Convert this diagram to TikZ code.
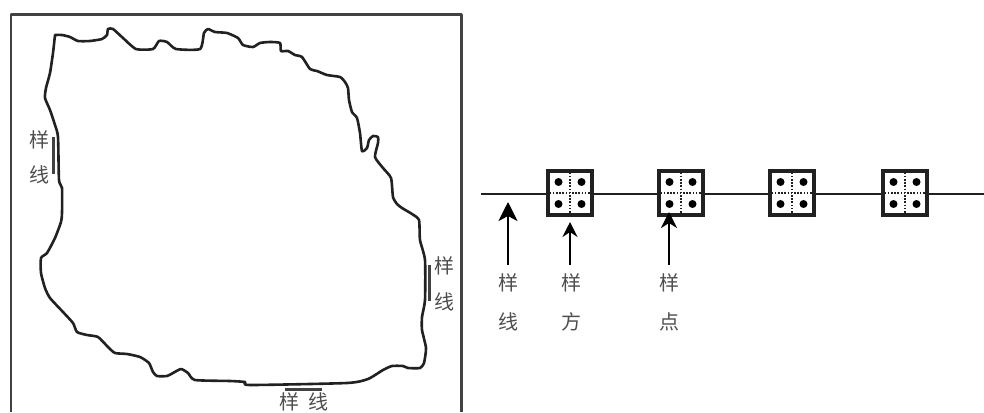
\documentclass[tikz,border=0pt]{standalone}
\usepackage{fontspec}
\newfontfamily\cjk{Noto Sans CJK SC}[Scale=1]
\usetikzlibrary{arrows.meta}
\definecolor{ink}{gray}{0.13}
\tikzset{
  frameline/.style={draw=ink!85!white,line width=2.3pt,line join=round},
  coast/.style={draw=ink,line width=2.6pt,line join=round,line cap=round},
  seg/.style={draw=ink!85!white,line width=3pt},
  lab/.style={font=\cjk\fontsize{20}{20}\selectfont,text=ink!80!white,inner sep=0pt},
  quad/.style={draw=ink,line width=3.1pt,fill=white,minimum size=44pt,inner sep=0pt},
  transect/.style={draw=ink,line width=2.2pt},
  cross/.style={draw=ink,line width=1.2pt,dash pattern=on 1.5pt off 1.7pt},
  dotpt/.style={fill=black,draw=none,circle,minimum size=8pt,inner sep=0pt},
  up/.style={draw=black,line width=2.8pt,-{Stealth[length=#1,width=#1,inset=5pt]}}
}
\begin{document}
\begin{tikzpicture}[x=1pt,y=-1pt]
\useasboundingbox (0,0) rectangle (984,412);
\fill[white] (0,0) rectangle (984,412);
% frame
\draw[frameline] (11,412) -- (11,14.5) -- (461.5,14.5) -- (461.5,412);
% outline
\draw[coast] plot[smooth,tension=0.35] coordinates {
(55,35)(62,35)(70,37)(78,41)(90,41)(102,39)(107,35)(108,29)(113,29)(123,38)(136,49)(153,49)(159,41)(167,42)(176,49)(200,49)(204,33)(208,29)(215,32)(227,33)(238,38)(243,45)(253,47)(260,43)(270,42)(280,43)(281,51)(288,51)(295,55)(302,57)(310,69)(317,71)(327,75)(340,77)(345,82)(348,88)(349,100)(352,112)(357,118)(360,133)(362,151)(367,148)(369,140)(373,136)(378,137)(378,143)(375,157)(383,168)(391,178)(393,197)(397,204)(402,208)(412,214)(419,220)(420,240)(425,260)(425,300)(422,317)(422,330)(426,348)(424,363)(420,368)(408,368)(403,366)(392,366)(383,370)(368,379)(347,383)(250,385)(245,382)(230,381)(195,380)(188,373)(181,369)(173,373)(167,376)(157,376)(153,372)(149,363)(140,357)(127,354)(115,353)(108,347)(98,337)(87,335)(77,332)(73,323)(63,312)(50,298)(45,288)(41,273)(41,258)(47,253)(55,238)(61,222)(62,213)(62,188)(59,180)(58,137)(55,125)(50,110)(45,98)(46,88)(50,73)(53,53)(55,35)};
% sample lines on the outline
\coordinate (la) at (53.5,137); \coordinate (lb) at (53.5,174);
\coordinate (ra) at (429,265); \coordinate (rb) at (429,301);
\coordinate (ba) at (285,389); \coordinate (bb) at (322,389);
\draw[seg] (la) -- (lb);
\draw[seg] (ra) -- (rb);
\draw[seg] (ba) -- (bb);
\node[lab] (l1) at (39,140) {样};
\node[lab] (l2) at (39,175) {线};
\node[lab] (r1) at (444,266) {样};
\node[lab] (r2) at (444,302) {线};
\node[lab] (b1) at (289,401.5) {样};
\node[lab] (b2) at (318,401.5) {线};
% transect
\coordinate (tstart) at (481,194);
\coordinate (tend) at (984,194);
\node[quad] (q1) at (570,193) {};
\node[quad] (q2) at (681,193) {};
\node[quad] (q3) at (792,193) {};
\node[quad] (q4) at (905,193) {};
\draw[transect] (tstart) -- (tstart -| q1.west) (q1.east |- tstart) -- (q2.west |- tstart) (q2.east |- tstart) -- (q3.west |- tstart) (q3.east |- tstart) -- (q4.west |- tstart) (q4.east |- tstart) -- (tend);
\foreach \q in {q1,q2,q3,q4}{
  \draw[cross] (\q.west) -- (\q.east);
  \draw[cross] (\q.north) -- (\q.south);
  \node[dotpt] at ([shift={(-11.5,-11)}]\q) {};
  \node[dotpt] at ([shift={(11.5,-11)}]\q) {};
  \node[dotpt] at ([shift={(-11.5,11)}]\q) {};
  \node[dotpt] at ([shift={(11.5,11)}]\q) {};
}
% pointers
\coordinate (a1s) at (508,265); \coordinate (a1e) at (508,202);
\coordinate (a2s) at (570,265); \coordinate (a2e) at (570,222);
\coordinate (a3s) at (669,265); \coordinate (a3e) at (669,212);
\draw[up=19pt] (a1s) -- (a1e);
\draw[up=15pt] (a2s) -- (a2e);
\draw[up=16pt] (a3s) -- (a3e);
\node[lab] (x1) at (508,283) {样};
\node[lab] (x2) at (508,322) {线};
\node[lab] (y1) at (571,283) {样};
\node[lab] (y2) at (571,322) {方};
\node[lab] (z1) at (669,283) {样};
\node[lab] (z2) at (669,322) {点};
\end{tikzpicture}
\end{document}
